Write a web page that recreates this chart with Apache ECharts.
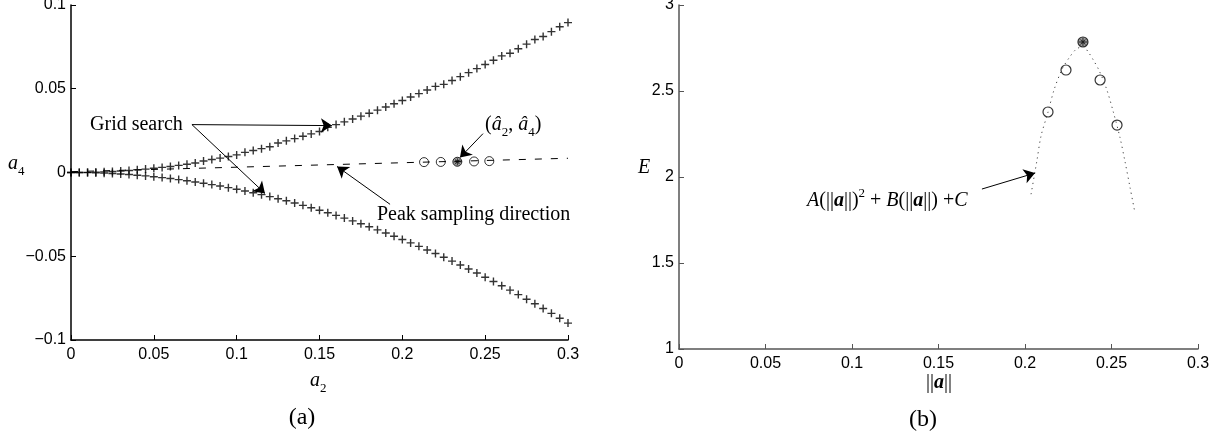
<!DOCTYPE html>
<html><head><meta charset="utf-8">
<script src="https://cdn.jsdelivr.net/npm/echarts@6/dist/echarts.min.js"></script>
<style>html,body{margin:0;padding:0;background:#fff}#c{width:1223px;height:440px}</style>
</head><body><div id="c"></div>
<script>
// ---------- data ----------
const gridA2 = [0,0.005,0.01,0.015,0.02,0.025,0.03,0.035,0.04,0.045,0.05,0.055,0.06,0.065,0.07,0.075,0.08,0.085,0.09,0.095,0.1,0.105,0.11,0.115,0.12,0.125,0.13,0.135,0.14,0.145,0.15,0.155,0.16,0.165,0.17,0.175,0.18,0.185,0.19,0.195,0.2,0.205,0.21,0.215,0.22,0.225,0.23,0.235,0.24,0.245,0.25,0.255,0.26,0.265,0.27,0.275,0.28,0.285,0.29,0.295,0.3];
const gridUpperA4 = [0,0.00003,0.0001,0.00023,0.0004,0.00063,0.0009,0.00123,0.0016,0.00203,0.0025,0.00303,0.0036,0.00423,0.0049,0.00563,0.0069,0.00773,0.0086,0.00953,0.0105,0.01203,0.0131,0.01423,0.0154,0.01763,0.0189,0.02023,0.0216,0.02303,0.0245,0.02703,0.0286,0.03023,0.0319,0.03363,0.0354,0.03723,0.0391,0.04103,0.043,0.04503,0.0471,0.04923,0.0514,0.05263,0.0549,0.05723,0.0596,0.06203,0.0645,0.06703,0.0696,0.07123,0.0739,0.07663,0.0794,0.08123,0.0841,0.08703,0.0895];
const gridLowerA4 = [0,-0.00003,-0.0001,-0.00023,-0.0004,-0.00063,-0.0009,-0.00123,-0.0016,-0.00203,-0.0025,-0.00303,-0.0036,-0.00423,-0.0049,-0.00563,-0.0064,-0.00723,-0.0081,-0.00903,-0.01,-0.01103,-0.0121,-0.01323,-0.0144,-0.01563,-0.0169,-0.01823,-0.0196,-0.02103,-0.0225,-0.02403,-0.0256,-0.02723,-0.0289,-0.03063,-0.0324,-0.03423,-0.0361,-0.03803,-0.04,-0.04203,-0.0441,-0.04623,-0.0484,-0.05063,-0.0529,-0.05523,-0.0576,-0.06003,-0.0625,-0.06503,-0.0676,-0.07023,-0.0729,-0.07563,-0.0784,-0.08123,-0.0841,-0.08703,-0.0899];
const peakDirA2 = [0, 0.3];
const peakDirA4 = [0.0005, 0.0085];
const sampleA2 = [0.2131, 0.2232, 0.2433, 0.2525];
const sampleA4 = [0.0062, 0.0063, 0.0066, 0.0068];
const peakA2 = [0.2332];
const peakA4 = [0.0064];
const leftXTicks = ['0','0.05','0.1','0.15','0.2','0.25','0.3'];
const leftYTicks = ['\u22120.1','\u22120.05','0','0.05','0.1'];

const normA = [0.2133, 0.2237, 0.2434, 0.2532];
const energyE = [2.378, 2.622, 2.564, 2.302];
const peakNorm = [0.2335];
const peakE = [2.785];
const fitNorm = [0.2035,0.2068,0.2093,0.2131,0.2169,0.2216,0.2260,0.2293,0.2334,0.2370,0.2395,0.2428,0.2472,0.2510,0.2549,0.2578,0.2607,0.2636];
const fitE = [1.90,2.09,2.24,2.37,2.51,2.63,2.70,2.74,2.76,2.72,2.68,2.62,2.51,2.38,2.23,2.09,1.94,1.79];
const rightXTicks = ['0','0.05','0.1','0.15','0.2','0.25','0.3'];
const rightYTicks = ['1','1.5','2','2.5','3'];

// ---------- chart ----------
const SERIF = '"Liberation Serif", "Times New Roman", serif';
const SANS = '"Liberation Sans", Arial, sans-serif';
const PLUS = 'path://M0,3.3H8V4.7H0Z M3.3,0H4.7V8H3.3Z';
const AST = 'path://M0,4.4H10V5.6H0Z M4.4,0H5.6V10H4.4Z M1.5,2.3L2.3,1.5L8.5,7.7L7.7,8.5Z M7.7,1.5L8.5,2.3L2.3,8.5L1.5,7.7Z';

function tickFmt(labels, min, step) {
  return v => labels[Math.round((v - min) / step)] ?? '';
}
function axisX(gi, color, labels) {
  return {
    gridIndex: gi, type: 'value', min: 0, max: 0.3, interval: 0.05,
    axisLine: { onZero: false, lineStyle: { color, width: 1.5 } },
    axisTick: { inside: true, length: 5, lineStyle: { color, width: 1 } },
    axisLabel: { color: '#000', fontFamily: SANS, fontSize: 16, margin: 7,
      showMinLabel: true, showMaxLabel: true, formatter: tickFmt(labels, 0, 0.05) },
    splitLine: { show: false }
  };
}
function axisY(gi, color, labels, min, max, step) {
  return {
    gridIndex: gi, type: 'value', min, max, interval: step,
    axisLine: { show: true, onZero: false, lineStyle: { color, width: 1.5 } },
    axisTick: { show: true, inside: true, length: 5, lineStyle: { color, width: 1 } },
    axisLabel: { color: '#000', fontFamily: SANS, fontSize: 16, margin: 5,
      showMinLabel: true, showMaxLabel: true, formatter: tickFmt(labels, min, step) },
    splitLine: { show: false }
  };
}
const arrowLine = (p, q) => [{ coord: p }, { coord: q }];
const markArrows = (lines) => ({
  silent: true, animation: false,
  symbol: ['none', 'arrow'], symbolSize: 11,
  label: { show: false }, emphasis: { disabled: true },
  lineStyle: { type: 'solid', color: '#000', width: 1 },
  itemStyle: { color: '#000' },
  data: lines
});

const chart = echarts.init(document.getElementById('c'), null, { renderer: 'canvas' });
const option = {
  animation: false,
  backgroundColor: '#fff',
  grid: [
    { left: 71, right: 655, top: 5, bottom: 100, outerBoundsMode: 'none' },
    { left: 679, right: 25, top: 5, bottom: 91, outerBoundsMode: 'none' }
  ],
  xAxis: [axisX(0, '#000', leftXTicks), axisX(1, '#555', rightXTicks)],
  yAxis: [axisY(0, '#000', leftYTicks, -0.1, 0.1, 0.05), axisY(1, '#555', rightYTicks, 1, 3, 0.5)],
  series: [
    { type: 'line', xAxisIndex: 0, yAxisIndex: 0, showSymbol: false, silent: true,
      data: peakDirA2.map((x, i) => [x, peakDirA4[i]]),
      lineStyle: { type: [7, 9], color: '#000', width: 1 },
      markLine: markArrows([
        arrowLine([0.073, 0.0286], [0.1575, 0.0280]),
        arrowLine([0.073, 0.0286], [0.1171, -0.0125]),
        arrowLine([0.2487, 0.0232], [0.2348, 0.0089]),
        arrowLine([0.1926, -0.0190], [0.1606, 0.0036])
      ]) },
    { type: 'scatter', xAxisIndex: 0, yAxisIndex: 0, silent: true, symbol: PLUS, symbolSize: 8,
      itemStyle: { color: '#000' }, data: gridA2.map((x, i) => [x, gridUpperA4[i]]) },
    { type: 'scatter', xAxisIndex: 0, yAxisIndex: 0, silent: true, symbol: PLUS, symbolSize: 8,
      itemStyle: { color: '#000' }, data: gridA2.map((x, i) => [x, gridLowerA4[i]]) },
    { type: 'scatter', xAxisIndex: 0, yAxisIndex: 0, silent: true, symbol: 'circle', symbolSize: 9,
      itemStyle: { color: 'rgba(0,0,0,0)', borderColor: '#000', borderWidth: 1 },
      data: sampleA2.map((x, i) => [x, sampleA4[i]]) },
    { type: 'scatter', xAxisIndex: 0, yAxisIndex: 0, silent: true, symbol: 'circle', symbolSize: 9,
      itemStyle: { color: '#888', borderColor: '#000', borderWidth: 1 },
      data: peakA2.map((x, i) => [x, peakA4[i]]) },
    { type: 'scatter', xAxisIndex: 0, yAxisIndex: 0, silent: true, symbol: AST, symbolSize: 7,
      itemStyle: { color: '#000' }, data: peakA2.map((x, i) => [x, peakA4[i]]) },

    { type: 'line', xAxisIndex: 1, yAxisIndex: 1, showSymbol: false, silent: true, smooth: 0.3,
      data: fitNorm.map((x, i) => [x, fitE[i]]),
      lineStyle: { type: [1.2, 4], color: '#444', width: 1 },
      markLine: markArrows([arrowLine([0.1751, 1.930], [0.2058, 2.023])]) },
    { type: 'scatter', xAxisIndex: 1, yAxisIndex: 1, silent: true, symbol: 'circle', symbolSize: 10,
      itemStyle: { color: 'rgba(0,0,0,0)', borderColor: '#000', borderWidth: 1.2 },
      data: normA.map((x, i) => [x, energyE[i]]) },
    { type: 'scatter', xAxisIndex: 1, yAxisIndex: 1, silent: true, symbol: 'circle', symbolSize: 10,
      itemStyle: { color: '#888', borderColor: '#000', borderWidth: 1.2 },
      data: peakNorm.map((x, i) => [x, peakE[i]]) },
    { type: 'scatter', xAxisIndex: 1, yAxisIndex: 1, silent: true, symbol: AST, symbolSize: 8,
      itemStyle: { color: '#000' }, data: peakNorm.map((x, i) => [x, peakE[i]]) }
  ]
};
chart.setOption(option);

// ---------- text annotations ----------
const rich = {
  t: { fontFamily: SERIF, fontSize: 20, lineHeight: 28, verticalAlign: 'middle', fill: '#000' },
  p: { fontFamily: SERIF, fontSize: 24, lineHeight: 30, verticalAlign: 'middle', fill: '#000' },
  i: { fontFamily: SERIF, fontStyle: 'italic', fontSize: 20, lineHeight: 28, verticalAlign: 'middle', fill: '#000' },
  b: { fontFamily: SERIF, fontStyle: 'italic', fontWeight: 'bold', fontSize: 20, lineHeight: 28, verticalAlign: 'middle', fill: '#000' },
  s: { fontFamily: SERIF, fontSize: 13, lineHeight: 28, verticalAlign: 'bottom', fill: '#000' },
  u: { fontFamily: SERIF, fontSize: 13, lineHeight: 28, verticalAlign: 'top', fill: '#000' }
};
function txt(x, y, text, align) {
  return { type: 'text', silent: true, x, y,
    style: { text, rich, fill: '#000', font: '20px ' + SERIF, align: align || 'left', verticalAlign: 'middle' } };
}
const L = p => chart.convertToPixel({ gridIndex: 0 }, p);
const R = p => chart.convertToPixel({ gridIndex: 1 }, p);
const g1 = L([0.0115, 0.0286]);
const g2 = L([0.2499, 0.0286]);
const g3 = L([0.1847, -0.025]);
const g4 = R([0.0740, 1.86]);
chart.setOption({ graphic: [
  txt(g1[0], g1[1], '{t|Grid search}'),
  txt(g2[0], g2[1], '{t|(}{i|â}{s|2}{t|, }{i|â}{s|4}{t|)}'),
  txt(g3[0], g3[1], '{t|Peak sampling direction}'),
  txt(g4[0], g4[1], '{i|A}{t|(||}{b|a}{t|||)}{u|2}{t| + }{i|B}{t|(||}{b|a}{t|||) +}{i|C}'),
  txt(8, 164, '{i|a}{s|4}'),
  txt(310, 381, '{i|a}{s|2}'),
  txt(638, 168, '{i|E}'),
  txt(926, 383, '{t|||}{b|a}{t|||}'),
  txt(302, 418, '{p|(a)}', 'center'),
  txt(923, 420, '{p|(b)}', 'center')
]});
</script>
</body></html>
